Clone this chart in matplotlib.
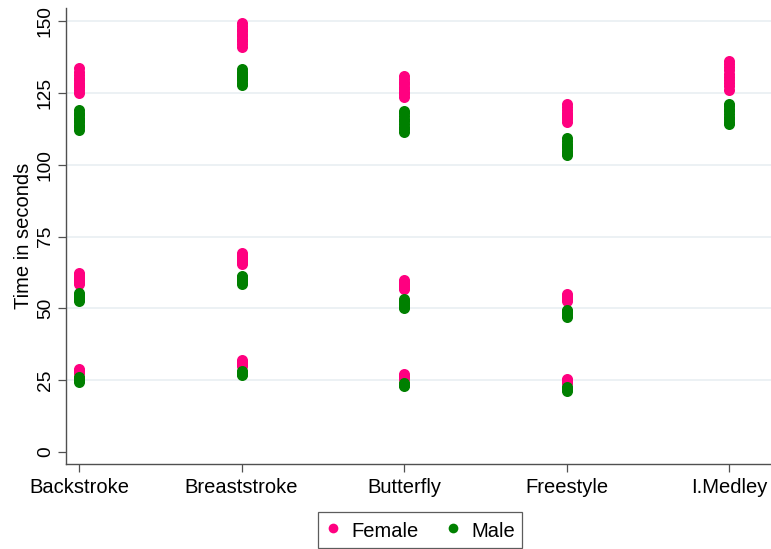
import matplotlib.pyplot as plt
from matplotlib.lines import Line2D

plt.rcParams['font.family'] = ['Liberation Sans', 'DejaVu Sans']

strokes = ["Backstroke", "Breaststroke", "Butterfly", "Freestyle", "I.Medley"]

# times in seconds, one list per stroke and gender (50m, 100m, 200m races pooled)
female_back = [27.6, 28.0, 28.3, 28.7,
               58.5, 59.2, 59.8, 60.4, 61.0, 61.7, 62.4,
               125.0, 126.1, 127.0, 127.9, 128.6, 129.5, 130.4, 131.3, 132.5, 133.7]
female_breast = [29.8, 30.4, 31.0, 31.4, 31.9,
                 65.4, 66.0, 66.6, 67.3, 68.0, 68.7, 69.4,
                 141.2, 142.1, 143.0, 143.9, 144.8, 145.7, 146.5, 147.4, 148.5, 149.5]
female_fly = [25.3, 25.9, 26.4, 27.0,
              56.6, 57.2, 57.8, 58.5, 59.1, 59.8,
              123.7, 124.6, 125.5, 126.3, 127.2, 128.0, 128.9, 129.9, 130.9]
female_free = [23.9, 24.4, 24.9, 25.4,
               52.6, 53.2, 53.8, 54.4, 55.1,
               115.0, 115.8, 116.6, 117.4, 118.2, 119.1, 120.2, 121.3]
female_medley = [126.2, 127.3, 128.4, 129.5, 130.6, 131.7, 132.9, 134.1, 135.2, 136.3]

male_back = [24.4, 24.9, 25.4, 25.8, 26.1,
             52.5, 53.1, 53.6, 54.2, 54.7, 55.2,
             112.2, 113.0, 113.9, 114.8, 115.5, 116.3, 117.2, 118.1, 119.2]
male_breast = [26.8, 27.2, 27.7, 28.2,
               58.6, 59.2, 59.8, 60.4, 60.9, 61.3,
               127.9, 128.6, 129.4, 130.1, 130.9, 131.7, 132.5, 133.3]
male_fly = [23.0, 23.3, 23.7, 24.0,
            50.0, 50.6, 51.2, 51.9, 52.5, 53.2,
            111.5, 112.4, 113.3, 114.2, 115.1, 116.0, 117.0, 117.9, 118.9]
male_free = [21.3, 21.7, 22.2, 22.7,
             47.1, 47.6, 48.1, 48.6, 49.0, 49.5,
             103.3, 104.1, 104.9, 105.7, 106.5, 107.4, 108.4, 109.4]
male_medley = [114.1, 115.0, 115.9, 116.8, 117.7, 118.6, 119.5, 120.4, 121.3]

female_times = [female_back, female_breast, female_fly, female_free, female_medley]
male_times = [male_back, male_breast, male_fly, male_free, male_medley]

pink = '#ff0080'
green = '#008000'

fig = plt.figure(figsize=(7.71, 5.49), dpi=100)
ax = fig.add_axes([66.3 / 771, 1 - 464.3 / 549, 1 - 66.3 / 771, (464.3 - 8.3) / 549])

for ytick in [25, 50, 75, 100, 125, 150]:
    ax.axhline(ytick, color='#e9eff2', lw=1.2, zorder=0)

for i, times in enumerate(female_times):
    ax.scatter([i + 1] * len(times), times, s=63, color=pink, linewidths=0, zorder=2)
for i, times in enumerate(male_times):
    ax.scatter([i + 1] * len(times), times, s=63, color=green, linewidths=0, zorder=3)

ax.set_xlim(0.922, 5.256)
ax.set_ylim(-4.39, 154.53)
ax.set_xticks(range(1, 6))
ax.set_xticklabels(strokes, fontsize=14.5)
ax.set_yticks([0, 25, 50, 75, 100, 125, 150])
ax.set_yticklabels(['0', '25', '50', '75', '100', '125', '150'],
                   rotation=90, va='center', fontsize=13.8)
ax.set_ylabel('Time in seconds', fontsize=14.5, labelpad=3)

for side in ['top', 'right']:
    ax.spines[side].set_visible(False)
for side in ['left', 'bottom']:
    ax.spines[side].set_color('#505050')
    ax.spines[side].set_linewidth(1.0)
ax.tick_params(axis='both', length=6, width=0.9, color='#505050', pad=4)
ax.tick_params(axis='y', pad=3)

handles = [Line2D([], [], ls='none', marker='o', ms=7, color=pink, mec='none'),
           Line2D([], [], ls='none', marker='o', ms=7, color=green, mec='none')]
leg = fig.legend(handles, ['Female', 'Male'], loc='center', ncol=2,
                 bbox_to_anchor=(420 / 771, 1 - 530 / 549), fontsize=14.5,
                 frameon=True, fancybox=False, edgecolor='#333333',
                 handlelength=0.8, handleheight=1.2, handletextpad=0.5,
                 columnspacing=1.35, borderpad=0.5, borderaxespad=0.2)
leg.get_frame().set_linewidth(0.9)
# tighter padding inside the legend frame
leg._legend_box.pad = 5

fig.savefig('out.png', dpi=100)
